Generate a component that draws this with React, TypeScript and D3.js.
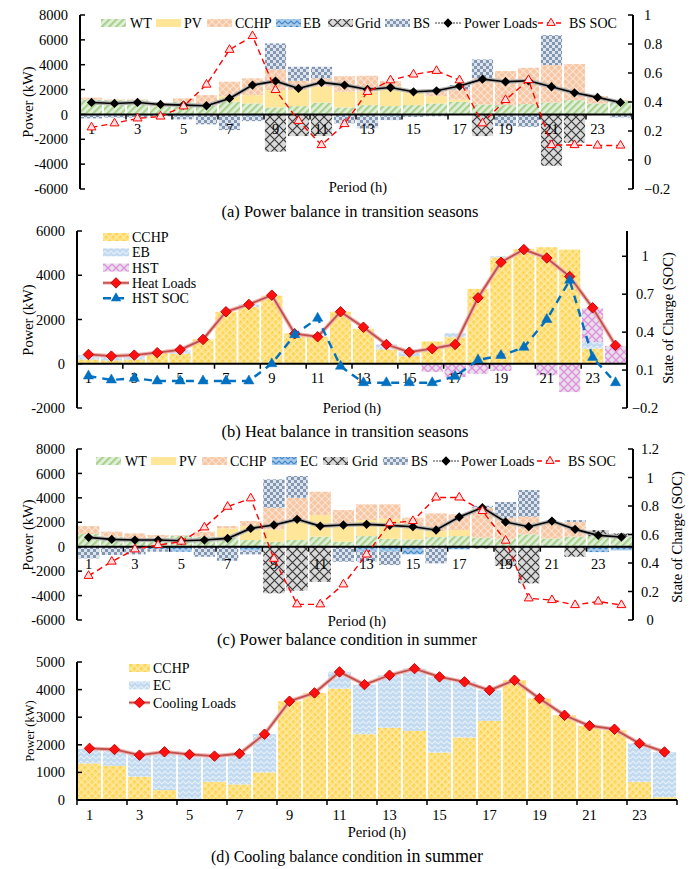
import * as d3 from 'd3';

const FONT = "'Liberation Serif', 'Times New Roman', serif";
const periods = d3.range(1, 25).map(String);
const periodLabels = ['1', '3', '5', '7', '9', '11', '13', '15', '17', '19', '21', '23'];

// (a) Power balance in transition seasons
const wtA = [1200, 1150, 1150, 650, 1020, 700, 1020, 885, 565, 670, 940, 565, 750, 670, 750, 885, 1020, 805, 750, 830, 965, 1150, 885, 1100];
const pvA = [0, 0, 0, 0, 0, 0, 450, 670, 1400, 1290, 1285, 1255, 1070, 1580, 1070, 590, 180, 0, 0, 0, 0, 0, 0, 0];
const cchpA = [150, 50, 50, 250, 270, 855, 1160, 1345, 1660, 750, 675, 1260, 1290, 430, 140, 485, 810, 2095, 2735, 2925, 3005, 2900, 590, 50];
const ebA = [-100, -100, -100, 0, -150, 0, 0, -150, 0, 0, 0, 0, 0, -150, -100, 0, 0, 0, 0, 0, 0, 0, 0, 0];
const gridA = [0, 0, 0, 0, 0, 0, 0, 0, -3000, -1740, -1740, 0, 0, 0, 0, 0, 0, -1740, 0, 0, -4130, -2280, 0, 0];
const bsA = [-220, -150, -150, -150, -250, -800, -1260, -390, 2090, 1125, 935, -720, -1125, -305, -100, -150, 350, 1525, -940, -1000, 2410, 0, 0, -240];
const loadA = [965, 885, 965, 805, 750, 700, 1290, 2360, 2680, 2090, 2575, 2360, 2010, 2170, 1820, 1900, 2280, 2840, 2630, 2710, 2225, 1740, 1370, 965];
const socA = [0.225, 0.253, 0.287, 0.3, 0.37, 0.52, 0.76, 0.855, 0.483, 0.27, 0.103, 0.248, 0.47, 0.55, 0.59, 0.615, 0.55, 0.253, 0.414, 0.552, 0.103, 0.103, 0.1, 0.1];

// (b) Heat balance in transition seasons
const cchpB = [195, 150, 195, 480, 450, 1100, 2350, 2560, 3080, 1370, 1220, 2350, 1580, 650, 345, 1010, 1200, 3385, 4810, 5190, 5265, 5160, 680, 0];
const ebB = [195, 195, 150, 0, 150, 0, 0, 120, 0, 0, 0, 0, 0, 220, 180, 0, 185, 0, 50, 0, 0, 0, 300, 0];
const hstB = [0, 0, 0, 0, 0, 0, 0, 0, 0, 0, 0, 0, 0, 0, 0, -375, -600, -450, -330, 0, -525, -1280, 1530, 800];
const loadB = [420, 345, 390, 500, 630, 1100, 2350, 2680, 3100, 1355, 1220, 2350, 1650, 870, 525, 680, 870, 2980, 4590, 5160, 4780, 3940, 2530, 830];
const socB = [0.053, 0.022, 0.035, 0.014, 0.014, 0.014, 0.014, 0.014, 0.15, 0.38, 0.51, 0.13, 0.0, 0.0, 0.0, 0.0, 0.05, 0.18, 0.215, 0.28, 0.5, 0.81, 0.2, 0.0];

// (c) Power balance condition in summer
const wtC = [1040, 820, 680, 765, 900, 820, 765, 545, 410, 545, 820, 410, 870, 655, 600, 790, 870, 740, 655, 1010, 680, 820, 870, 820];
const pvC = [0, 0, 0, 0, 0, 0, 735, 1145, 1010, 1635, 1770, 1500, 1310, 1635, 1090, 500, 495, 0, 0, 0, 0, 0, 0, 0];
const cchpC = [650, 410, 410, 190, 50, 410, 190, 410, 1770, 1830, 1910, 1090, 1290, 1180, 685, 1440, 1285, 2460, 1720, 1450, 1340, 1200, 0, 0];
const ecC = [0, 0, 0, -210, -410, 0, 0, -330, 0, 0, 0, 0, -400, -400, -630, 0, -220, 0, 0, 0, 0, 0, -440, -300];
const gridC = [0, 0, 0, 0, 0, 0, 0, 0, -3820, -3600, -2870, 0, 0, 0, 0, 0, 0, -150, -1580, -3000, 0, -820, 495, 270];
const bsC = [-955, -680, -630, -200, 0, -820, -1150, -300, 2325, 1780, 0, -1230, -800, -1100, 0, -1365, 0, 150, 1285, 2180, 0, 160, 0, 0];
const loadC = [765, 600, 545, 545, 490, 545, 680, 1500, 1775, 2240, 1690, 1775, 1830, 1750, 1640, 1365, 2430, 3200, 2020, 1640, 2100, 1420, 930, 790];
const socC = [0.31, 0.41, 0.496, 0.526, 0.55, 0.65, 0.795, 0.854, 0.43, 0.11, 0.11, 0.25, 0.46, 0.68, 0.695, 0.86, 0.86, 0.765, 0.557, 0.152, 0.14, 0.105, 0.13, 0.105];

// (d) Cooling balance condition in summer
const cchpD = [1325, 1240, 845, 360, 35, 660, 565, 1000, 3580, 3880, 4035, 2385, 2615, 2505, 1720, 2265, 2870, 4340, 3675, 3070, 2690, 2530, 660, 100];
const ecD = [520, 590, 805, 1360, 1625, 940, 1095, 1385, 0, 0, 605, 1795, 1905, 2255, 2740, 2015, 1105, 0, 0, 0, 0, 0, 1390, 1640];
const loadD = [1870, 1830, 1625, 1745, 1650, 1590, 1675, 2385, 3580, 3880, 4640, 4180, 4520, 4760, 4460, 4280, 3975, 4340, 3675, 3070, 2690, 2565, 2050, 1740];

type Band = d3.ScaleBand<string>;
type Lin = d3.ScaleLinear<number, number>;
type Series = { key: string; values: number[]; pat: string };

function Patterns() {
  return (
    <defs>
      <pattern id="wt" width="5" height="5" patternUnits="userSpaceOnUse" patternTransform="rotate(45)">
        <rect width="5" height="5" fill="#e2efd9" />
        <rect width="2.2" height="5" fill="#a9d18e" />
      </pattern>
      <pattern id="pv" width="4" height="4" patternUnits="userSpaceOnUse">
        <rect width="4" height="4" fill="#ffe699" />
      </pattern>
      <pattern id="cchpP" width="5" height="5" patternUnits="userSpaceOnUse" patternTransform="rotate(45)">
        <rect width="5" height="5" fill="#f7c6a3" />
        <path d="M0,0H5M0,0V5" stroke="#fdf0e6" strokeWidth="1.4" />
      </pattern>
      <pattern id="ebP" width="6" height="5" patternUnits="userSpaceOnUse">
        <rect width="6" height="5" fill="#a9cbea" />
        <path d="M0,4L3,1L6,4" fill="none" stroke="#3f86c8" strokeWidth="1.2" />
      </pattern>
      <pattern id="grid" width="9" height="9" patternUnits="userSpaceOnUse">
        <rect width="9" height="9" fill="#d9d9d9" />
        <path d="M0,0L9,9M9,0L0,9" stroke="#3a3a3a" strokeWidth="1.2" />
      </pattern>
      <pattern id="bs" width="6" height="6" patternUnits="userSpaceOnUse">
        <rect width="6" height="6" fill="#dde4ee" />
        <rect width="3" height="3" fill="#8497b0" />
        <rect x="3" y="3" width="3" height="3" fill="#8497b0" />
      </pattern>
      <pattern id="cchpY" width="5" height="5" patternUnits="userSpaceOnUse" patternTransform="rotate(45)">
        <rect width="5" height="5" fill="#ffdc6e" />
        <path d="M0,0H5M0,0V5" stroke="#fff4cf" strokeWidth="1.2" />
        <circle cx="2.5" cy="2.5" r="0.6" fill="#f0c020" />
      </pattern>
      <pattern id="ebL" width="6" height="5" patternUnits="userSpaceOnUse">
        <rect width="6" height="5" fill="#c2daf0" />
        <path d="M0,4L3,1L6,4" fill="none" stroke="#e6f0fa" strokeWidth="1.1" />
      </pattern>
      <pattern id="hst" width="8" height="8" patternUnits="userSpaceOnUse">
        <rect width="8" height="8" fill="#e6e3e6" />
        <path d="M0,0L8,8M8,0L0,8" stroke="#e38ce3" strokeWidth="1.3" />
      </pattern>
    </defs>
  );
}

function Bars({ series, x, y }: { series: Series[]; x: Band; y: Lin }) {
  const rows = periods.map((_, i) => {
    const r: Record<string, number> = {};
    series.forEach(s => { r[s.key] = s.values[i]; });
    return r;
  });
  const stacked = d3.stack<Record<string, number>>()
    .keys(series.map(s => s.key))
    .offset(d3.stackOffsetDiverging)(rows);
  return (
    <g>
      {stacked.map((layer, li) => layer.map((d, i) => {
        const y0 = y(d[0]);
        const y1 = y(d[1]);
        const h = Math.abs(y1 - y0);
        if (h < 0.2) return null;
        return (
          <rect key={`${li}-${i}`} x={x(periods[i])! + 0.9} width={x.bandwidth() - 1.8}
            y={Math.min(y0, y1)} height={h} fill={`url(#${series[li].pat})`} />
        );
      }))}
    </g>
  );
}

const diamondPath = d3.symbol(d3.symbolSquare, 1)()!;

function LoadLine({ values, x, y, kind }: { values: number[]; x: Band; y: Lin; kind: 'power' | 'heat' }) {
  const cx = (i: number) => x(periods[i])! + x.bandwidth() / 2;
  const line = d3.line<number>().x((_, i) => cx(i)).y(v => y(v));
  const p = line(values)!;
  const power = kind === 'power';
  return (
    <g>
      <path d={p} fill="none" stroke={power ? '#b0b0b0' : '#f0b4b0'} strokeWidth={4} />
      <path d={p} fill="none" stroke={power ? '#000' : '#c0504d'} strokeWidth={power ? 1.6 : 1.8} />
      {values.map((v, i) => (
        <path key={i} d={diamondPath}
          transform={`translate(${cx(i)},${y(v)}) rotate(45) scale(${power ? 6.6 : 7.4})`}
          fill={power ? '#000' : '#ff1010'} stroke={power ? '#000' : '#c00000'} strokeWidth={power ? 0 : 0.12} />
      ))}
    </g>
  );
}

function SocLine({ values, x, y, kind }: { values: number[]; x: Band; y: Lin; kind: 'bs' | 'hst' }) {
  const cx = (i: number) => x(periods[i])! + x.bandwidth() / 2;
  const line = d3.line<number>().x((_, i) => cx(i)).y(v => y(v));
  const bs = kind === 'bs';
  const tri = d3.symbol(d3.symbolTriangle, bs ? 34 : 46)()!;
  return (
    <g>
      <path d={line(values)!} fill="none" stroke={bs ? '#ff0000' : '#0070c0'}
        strokeWidth={bs ? 1.4 : 2.4} strokeDasharray={bs ? '6,4' : '8,6'} />
      {values.map((v, i) => (
        <path key={i} d={tri} transform={`translate(${cx(i)},${y(v)})`}
          fill={bs ? '#ffe0e0' : '#0070c0'} stroke={bs ? '#ff0000' : '#0070c0'} strokeWidth={bs ? 1 : 0.5} />
      ))}
    </g>
  );
}

function LeftAxis({ y, ticks, x0, top, bottom }: { y: Lin; ticks: number[]; x0: number; top: number; bottom: number }) {
  return (
    <g fontFamily={FONT} fontSize={14.5}>
      <line x1={x0} x2={x0} y1={top} y2={bottom} stroke="#000" strokeWidth={2} />
      {ticks.map(t => (
        <g key={t}>
          <line x1={x0} x2={x0 + 5} y1={y(t)} y2={y(t)} stroke="#000" strokeWidth={1.5} />
          <text x={x0 - 12} y={y(t)} dy="0.35em" textAnchor="end">{t}</text>
        </g>
      ))}
    </g>
  );
}

function RightAxis({ y, ticks, x0, top, bottom, labelX, anchor }:
  { y: Lin; ticks: number[]; x0: number; top: number; bottom: number; labelX: number; anchor: string }) {
  return (
    <g fontFamily={FONT} fontSize={14.5}>
      <line x1={x0} x2={x0} y1={top} y2={bottom} stroke="#000" strokeWidth={2} />
      {ticks.map(t => (
        <g key={t}>
          <line x1={x0 - 5} x2={x0} y1={y(t)} y2={y(t)} stroke="#000" strokeWidth={1.5} />
          <text x={labelX} y={y(t)} dy="0.35em" textAnchor={anchor}>{d3.format('~g')(t)}</text>
        </g>
      ))}
    </g>
  );
}

function ZeroAxis({ x, yPos, labelY }: { x: Band; yPos: number; labelY: number }) {
  const [r0, r1] = x.range();
  const bounds = d3.range(0, 25, 2).map(k => r0 + k * x.step());
  return (
    <g fontFamily={FONT} fontSize={14.5}>
      <line x1={r0} x2={r1} y1={yPos} y2={yPos} stroke="#000" strokeWidth={2} />
      {bounds.map(b => <line key={b} x1={b} x2={b} y1={yPos} y2={yPos + 5} stroke="#000" strokeWidth={1.5} />)}
      {periodLabels.map(l => (
        <text key={l} x={x(l)! + x.bandwidth() / 2} y={labelY} textAnchor="middle">{l}</text>
      ))}
    </g>
  );
}

type LegendItem = { label: string; sx: number; tx: number; kind: string };

function LegendRow({ items, y }: { items: LegendItem[]; y: number }) {
  const tri = d3.symbol(d3.symbolTriangle, 30)()!;
  return (
    <g fontFamily={FONT} fontSize={14}>
      {items.map(it => (
        <g key={it.label}>
          {it.kind === 'load' && (
            <g>
              <line x1={it.sx} x2={it.sx + 26} y1={y} y2={y} stroke="#a0a0a0" strokeWidth={2} strokeDasharray="2,1" />
              <path d={diamondPath} transform={`translate(${it.sx + 13},${y}) rotate(45) scale(6.6)`} fill="#000" />
            </g>
          )}
          {it.kind === 'soc' && (
            <g>
              <line x1={it.sx} x2={it.sx + 26} y1={y} y2={y} stroke="#ff0000" strokeWidth={1.3} strokeDasharray="5,4" />
              <path d={tri} transform={`translate(${it.sx + 13},${y})`} fill="#ffe0e0" stroke="#ff0000" strokeWidth={1} />
            </g>
          )}
          {it.kind !== 'load' && it.kind !== 'soc' && (
            <rect x={it.sx} y={y - 4} width={25} height={8} fill={`url(#${it.kind})`} />
          )}
          <text x={it.tx} y={y} dy="0.35em">{it.label}</text>
        </g>
      ))}
    </g>
  );
}

function LegendCol({ items, x, y0, step, w }: { items: { label: string; kind: string }[]; x: number; y0: number; step: number; w: number }) {
  const tri = d3.symbol(d3.symbolTriangle, 46)()!;
  return (
    <g fontFamily={FONT} fontSize={14}>
      {items.map((it, i) => {
        const y = y0 + i * step;
        return (
          <g key={it.label}>
            {it.kind === 'heat' && (
              <g>
                <line x1={x} x2={x + w} y1={y} y2={y} stroke="#f0b4b0" strokeWidth={3.5} />
                <line x1={x} x2={x + w} y1={y} y2={y} stroke="#c0504d" strokeWidth={1.6} />
                <path d={diamondPath} transform={`translate(${x + w / 2},${y}) rotate(45) scale(7.4)`} fill="#ff1010" stroke="#c00000" strokeWidth={0.12} />
              </g>
            )}
            {it.kind === 'hstsoc' && (
              <g>
                <line x1={x} x2={x + w} y1={y} y2={y} stroke="#0070c0" strokeWidth={2.4} strokeDasharray="8,5" />
                <path d={tri} transform={`translate(${x + w / 2},${y})`} fill="#0070c0" />
              </g>
            )}
            {it.kind !== 'heat' && it.kind !== 'hstsoc' && (
              <rect x={x} y={y - 4} width={w} height={8} fill={`url(#${it.kind})`} />
            )}
            <text x={x + w + 3} y={y} dy="0.35em">{it.label}</text>
          </g>
        );
      })}
    </g>
  );
}

function AxisTitles({ leftX, leftY, bottomX, bottomY, rightX, rightY, size = 14.5 }:
  { leftX: number; leftY: number; bottomX: number; bottomY: number; rightX?: number; rightY?: number; size?: number }) {
  return (
    <g fontFamily={FONT} fontSize={14.5}>
      <text transform={`translate(${leftX},${leftY}) rotate(-90)`} textAnchor="middle" fontSize={size}>Power (kW)</text>
      <text x={bottomX} y={bottomY} textAnchor="middle">Period (h)</text>
      {rightX !== undefined && (
        <text transform={`translate(${rightX},${rightY}) rotate(-90)`} textAnchor="middle">State of Charge (SOC)</text>
      )}
    </g>
  );
}

function PanelA() {
  const x = d3.scaleBand(periods, [80, 632]);
  const y = d3.scaleLinear([-6000, 8000], [189, 15]);
  const ry = d3.scaleLinear([-0.2, 1], [189, 15]);
  const series: Series[] = [
    { key: 'WT', values: wtA, pat: 'wt' },
    { key: 'PV', values: pvA, pat: 'pv' },
    { key: 'CCHP', values: cchpA, pat: 'cchpP' },
    { key: 'EB', values: ebA, pat: 'ebP' },
    { key: 'Grid', values: gridA, pat: 'grid' },
    { key: 'BS', values: bsA, pat: 'bs' },
  ];
  const legend: LegendItem[] = [
    { label: 'WT', sx: 101, tx: 130, kind: 'wt' },
    { label: 'PV', sx: 156, tx: 184, kind: 'pv' },
    { label: 'CCHP', sx: 207, tx: 235, kind: 'cchpP' },
    { label: 'EB', sx: 276, tx: 303, kind: 'ebP' },
    { label: 'Grid', sx: 328, tx: 355, kind: 'grid' },
    { label: 'BS', sx: 385, tx: 413, kind: 'bs' },
    { label: 'Power Loads', sx: 435, tx: 464, kind: 'load' },
    { label: 'BS SOC', sx: 538, tx: 569, kind: 'soc' },
  ];
  return (
    <g>
      <Bars series={series} x={x} y={y} />
      <ZeroAxis x={x} yPos={y(0)} labelY={134} />
      <LoadLine values={loadA} x={x} y={y} kind="power" />
      <SocLine values={socA} x={x} y={ry} kind="bs" />
      <LeftAxis y={y} ticks={d3.range(-6000, 8001, 2000)} x0={80} top={15} bottom={189} />
      <RightAxis y={ry} ticks={[-0.2, 0, 0.2, 0.4, 0.6, 0.8, 1]} x0={633} top={15} bottom={189} labelX={644} anchor="start" />
      <LegendRow items={legend} y={23} />
      <AxisTitles leftX={33} leftY={102} bottomX={358} bottomY={192} />
      <text x={350} y={217} textAnchor="middle" fontFamily={FONT} fontSize={16.5}>(a) Power balance in transition seasons</text>
    </g>
  );
}

function PanelB() {
  const x = d3.scaleBand(periods, [77, 627]);
  const y = d3.scaleLinear([-2000, 6000], [408, 231]);
  const ry = d3.scaleLinear([-0.2, 1.2], [408, 231]);
  const series: Series[] = [
    { key: 'CCHP', values: cchpB, pat: 'cchpY' },
    { key: 'EB', values: ebB, pat: 'ebL' },
    { key: 'HST', values: hstB, pat: 'hst' },
  ];
  return (
    <g>
      <Bars series={series} x={x} y={y} />
      <ZeroAxis x={x} yPos={y(0)} labelY={383} />
      <LoadLine values={loadB} x={x} y={y} kind="heat" />
      <SocLine values={socB} x={x} y={ry} kind="hst" />
      <LeftAxis y={y} ticks={d3.range(-2000, 6001, 2000)} x0={77} top={231} bottom={408} />
      <RightAxis y={ry} ticks={[-0.2, 0.1, 0.4, 0.7, 1]} x0={627} top={231} bottom={408} labelX={645} anchor="middle" />
      <LegendCol x={103} y0={237} step={15.3} w={26} items={[
        { label: 'CCHP', kind: 'cchpY' },
        { label: 'EB', kind: 'ebL' },
        { label: 'HST', kind: 'hst' },
        { label: 'Heat Loads', kind: 'heat' },
        { label: 'HST SOC', kind: 'hstsoc' },
      ]} />
      <AxisTitles leftX={33} leftY={320} bottomX={352} bottomY={413} rightX={673} rightY={318} />
      <text x={345} y={437} textAnchor="middle" fontFamily={FONT} fontSize={16.5}>(b) Heat balance in transition seasons</text>
    </g>
  );
}

function PanelC() {
  const x = d3.scaleBand(periods, [77, 633]);
  const y = d3.scaleLinear([-6000, 8000], [620, 449]);
  const ry = d3.scaleLinear([0, 1.2], [620, 449]);
  const series: Series[] = [
    { key: 'WT', values: wtC, pat: 'wt' },
    { key: 'PV', values: pvC, pat: 'pv' },
    { key: 'CCHP', values: cchpC, pat: 'cchpP' },
    { key: 'EC', values: ecC, pat: 'ebP' },
    { key: 'Grid', values: gridC, pat: 'grid' },
    { key: 'BS', values: bsC, pat: 'bs' },
  ];
  const legend: LegendItem[] = [
    { label: 'WT', sx: 96, tx: 125, kind: 'wt' },
    { label: 'PV', sx: 151, tx: 179, kind: 'pv' },
    { label: 'CCHP', sx: 202, tx: 230, kind: 'cchpP' },
    { label: 'EC', sx: 272, tx: 300, kind: 'ebP' },
    { label: 'Grid', sx: 323, tx: 352, kind: 'grid' },
    { label: 'BS', sx: 383, tx: 411, kind: 'bs' },
    { label: 'Power Loads', sx: 433, tx: 461, kind: 'load' },
    { label: 'BS SOC', sx: 537, tx: 568, kind: 'soc' },
  ];
  return (
    <g>
      <Bars series={series} x={x} y={y} />
      <ZeroAxis x={x} yPos={y(0)} labelY={569} />
      <LoadLine values={loadC} x={x} y={y} kind="power" />
      <SocLine values={socC} x={x} y={ry} kind="bs" />
      <LeftAxis y={y} ticks={d3.range(-6000, 8001, 2000)} x0={77} top={449} bottom={620} />
      <RightAxis y={ry} ticks={[0, 0.2, 0.4, 0.6, 0.8, 1, 1.2]} x0={633} top={449} bottom={620} labelX={650} anchor="middle" />
      <LegendRow items={legend} y={461} />
      <AxisTitles leftX={33} leftY={535} bottomX={357} bottomY={626} rightX={682} rightY={537} />
      <text x={347} y={645} textAnchor="middle" fontFamily={FONT} fontSize={16.5}>(c) Power balance condition in summer</text>
    </g>
  );
}

function PanelD() {
  const x = d3.scaleBand(periods, [77, 677]);
  const y = d3.scaleLinear([0, 5000], [800, 662]);
  const series: Series[] = [
    { key: 'CCHP', values: cchpD, pat: 'cchpY' },
    { key: 'EC', values: ecD, pat: 'ebL' },
  ];
  return (
    <g>
      <Bars series={series} x={x} y={y} />
      <ZeroAxis x={x} yPos={800} labelY={820} />
      <LoadLine values={loadD} x={x} y={y} kind="heat" />
      <LeftAxis y={y} ticks={d3.range(0, 5001, 1000)} x0={77} top={662} bottom={800} />
      <LegendCol x={129} y0={668} step={17.3} w={21} items={[
        { label: 'CCHP', kind: 'cchpY' },
        { label: 'EC', kind: 'ebL' },
        { label: 'Cooling Loads', kind: 'heat' },
      ]} />
      <AxisTitles leftX={34} leftY={731} bottomX={377} bottomY={837} size={12.5} />
      <text x={347} y={862} textAnchor="middle" fontFamily={FONT} fontSize={16}>
        (d) Cooling balance condition <tspan fontSize={18}>in summer</tspan>
      </text>
    </g>
  );
}

export default function App() {
  return (
    <svg width={694} height={869} viewBox="0 0 694 869"
      style={{ position: 'absolute', left: 0, top: 0, background: '#fff' }}>
      <Patterns />
      <rect width={694} height={869} fill="#fff" />
      <PanelA />
      <PanelB />
      <PanelC />
      <PanelD />
    </svg>
  );
}
